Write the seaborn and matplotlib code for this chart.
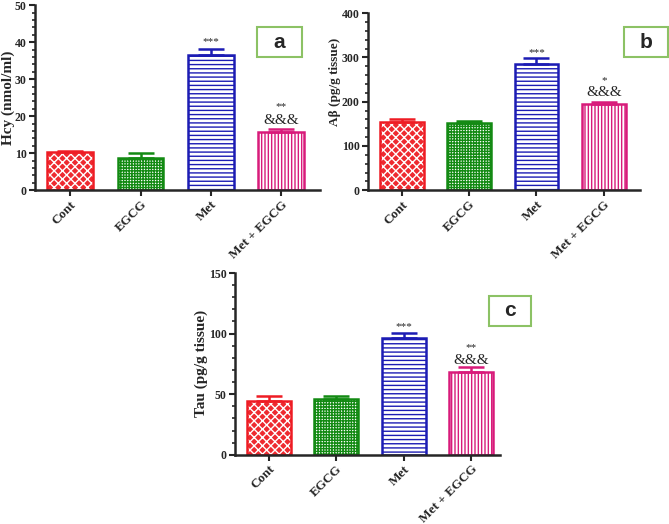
import numpy as np
import pandas as pd
import matplotlib
matplotlib.use("Agg")
import matplotlib.pyplot as plt
from matplotlib.patches import Rectangle
from matplotlib.ticker import MultipleLocator
import seaborn as sns

# group names and values (mean and upper SEM)
groups = ["Cont", "EGCG", "Met", "Met + EGCG"]
hcy_mean = [10.2, 8.8, 36.5, 15.8]
hcy_sem = [0.5, 1.2, 1.6, 0.8]
abeta_mean = [155, 151, 284, 195]
abeta_sem = [6, 5, 15, 5]
tau_mean = [44.7, 46.3, 96.2, 68.3]
tau_sem = [3.8, 2.5, 4.5, 3.8]

# significance marks above each bar ('' = none)
hcy_marks = ["", "", "***", "**\n&&&"]
abeta_marks = ["", "", "***", "*\n&&&"]
tau_marks = ["", "", "***", "**\n&&&"]

colors = ["#ee1c24", "#138a13", "#1c1cb4", "#d81b7a"]
hatches = ["xxxx", "++++++", "----", "|||||"]

sns.set_style("ticks")
plt.rcParams["font.family"] = ["Liberation Serif", "DejaVu Serif"]
plt.rcParams["hatch.linewidth"] = 1.0

fig = plt.figure(figsize=(6.69, 5.24), dpi=100)


def panel(rect, means, sems, marks, ylabel, ymax, major, minor, xmax, mark_y,
          ylab_pos, ylab_size=11):
    ax = fig.add_axes(rect)
    df = pd.DataFrame({"group": groups, "value": means})
    sns.barplot(data=df, x="group", y="value", hue="group", palette=colors,
                width=0.65, legend=False, errorbar=None, ax=ax)
    for i, (p, c, h) in enumerate(zip(ax.patches, colors, hatches)):
        if i == 0:
            # red face with white dotted hatch, outline drawn on top
            p.set_facecolor("#ee2a30")
            p.set_edgecolor("white")
            p.set_hatch(h)
            p.set_linewidth(0)
            ax.add_patch(Rectangle(p.get_xy(), p.get_width(), p.get_height(),
                                   fill=False, edgecolor=c, linewidth=1.8, zorder=p.get_zorder() + 0.1))
        else:
            p.set_facecolor("white")
            p.set_edgecolor(c)
            p.set_hatch(h)
            p.set_linewidth(1.8)
    x = np.arange(len(groups))
    for xi, m, s, c in zip(x, means, sems, colors):
        ax.errorbar(xi, m, yerr=[[0], [s]], color=c, capsize=9.5,
                    elinewidth=1.8, capthick=1.8, zorder=1)
    for xi, mk, yy in zip(x, marks, mark_y):
        if not mk:
            continue
        parts = mk.split("\n")
        ax.text(xi, yy[0], parts[0], ha="center", va="center", fontsize=8)
        if len(parts) > 1:
            ax.text(xi, yy[1], parts[1], ha="center", va="center", fontsize=11)
    ax.set_ylim(0, ymax)
    ax.set_xlim(-0.5, xmax)
    ax.yaxis.set_major_locator(MultipleLocator(major))
    ax.yaxis.set_minor_locator(MultipleLocator(minor))
    ax.set_xlabel("")
    ax.set_ylabel(ylabel, fontsize=ylab_size, fontweight="bold")
    ax.yaxis.set_label_coords(*ylab_pos)
    ax.set_xticks(x)
    ax.set_xticklabels(groups, rotation=45, ha="right", rotation_mode="anchor",
                       fontsize=9.5, fontweight="bold")
    for t in ax.get_yticklabels():
        t.set_fontweight("bold")
        t.set_fontsize(8.5)
    ax.tick_params(axis="both", width=1.5, length=4, pad=2)
    ax.tick_params(axis="y", which="minor", width=1.2, length=2.5)
    for side in ["left", "bottom"]:
        ax.spines[side].set_linewidth(1.8)
    sns.despine(ax=ax)
    return ax


ax_a = panel([0.0523, 0.637, 0.426, 0.353], hcy_mean, hcy_sem, hcy_marks,
             "Hcy (nmol/ml)", 50, 10, 2, 3.55,
             [None, None, (40.2,), (22.7, 18.9)], (-0.07, 0.5))
ax_b = panel([0.550, 0.637, 0.407, 0.338], abeta_mean, abeta_sem, abeta_marks,
             "A\u03b2 (pg/g tissue)", 400, 100, 20, 3.54,
             [None, None, (311,), (247, 220)], (-0.1, 0.61), ylab_size=9.5)
ax_c = panel([0.351, 0.132, 0.396, 0.347], tau_mean, tau_sem, tau_marks,
             "Tau (pg/g tissue)", 150, 50, 10, 3.42,
             [None, None, (106,), (88.6, 78)], (-0.1, 0.5))

# panel letter boxes
for label, (px, py, pw, ph) in zip(["a", "b", "c"],
                                   [(257, 27, 45, 30), (624, 27, 44, 30), (489, 296, 42, 30)]):
    x0 = px / 669
    y0 = 1 - (py + ph) / 524
    fig.patches.append(Rectangle((x0, y0), pw / 669, ph / 524, transform=fig.transFigure,
                                 facecolor="white", edgecolor="#8cc265", linewidth=1.5))
    fig.text(x0 + pw / 669 / 2, y0 + ph / 524 / 2, label, ha="center", va="center",
             fontsize=15, fontweight="bold", family=["Liberation Sans", "DejaVu Sans"])

fig.savefig("out.png", dpi=100)
